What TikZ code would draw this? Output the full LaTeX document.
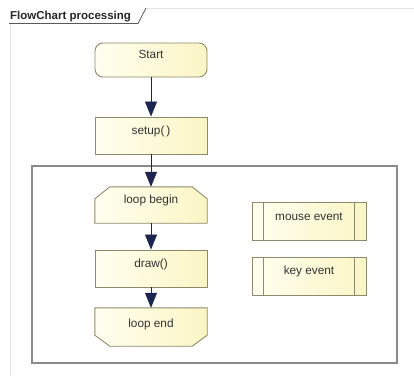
\documentclass[tikz,border=0pt]{standalone}
\usepackage{fontspec}
\setmainfont{Liberation Sans}
\usetikzlibrary{arrows.meta,calc,backgrounds}
\definecolor{boxfillL}{HTML}{FFFFF0}
\definecolor{boxfillR}{HTML}{FBF5C4}
\definecolor{boxline}{HTML}{8C8A6C}
\definecolor{arrowcol}{HTML}{1C2550}
\definecolor{framecol}{HTML}{8A8A8A}
\definecolor{faint}{HTML}{E4E4E4}
\definecolor{txt}{HTML}{333333}
\begin{document}
\begin{tikzpicture}[x=1pt,y=-1pt,
  lbl/.style={minimum width=112pt, inner xsep=0pt, inner ysep=2pt,
    text height=15pt, text depth=18pt,
    font=\fontsize{11.8}{14}\selectfont, text=txt},
  boxed/.style={lbl, draw=boxline, line width=0.9pt,
    left color=boxfillL, right color=boxfillR},
  shapefill/.style={draw=boxline, line width=0.9pt,
    left color=boxfillL, right color=boxfillR},
  flow/.style={draw=arrowcol, line width=0.8pt,
    -{Triangle[width=12pt,length=15pt]}, arrowcol},
  group/.style={draw=framecol, line width=1.4pt,
    minimum width=365pt, minimum height=197pt, inner sep=0pt}
]
\useasboundingbox (0,0) rectangle (414,376);
\begin{scope}[on background layer]
\fill[white] (0,0) rectangle (414,376);
\end{scope}

% outer frame / title tab
\draw[faint, line width=0.8pt] (146,8) -- (414,8);
\draw[faint, line width=0.8pt] (10,23) -- (10,376);
\node (title) [anchor=base west, inner sep=0pt, text=black!85,
  font=\bfseries\fontsize{11.5}{13}\selectfont] at (10,19) {FlowChart processing};
\draw[black!65, line width=0.8pt] (9,23.5) -- (138,23.5) -- (146,8);

% group frame
\node (grp) [group] at (214.5,264.5) {};

% main flow
\node (start) [boxed, rounded corners=8pt, text height=13.5pt, text depth=16.5pt] at (151,60) {Start};
\node (setup) [boxed, text height=15.5pt, text depth=17.5pt] at (151,135.5) {setup(\,)};
\node (lb) [lbl, text height=14pt, text depth=18pt] at (151,205) {loop begin};
\node (draw) [boxed, text height=15pt, text depth=18pt] at (151,268.5) {draw()};
\node (le) [lbl, text height=17pt, text depth=17pt] at (151,327) {loop end};

\begin{scope}[on background layer]
  \path[shapefill] ($(lb.north west)+(0,12)$) -- ($(lb.north west)+(15,0)$)
    -- ($(lb.north east)+(-15,0)$) -- ($(lb.north east)+(0,12)$)
    -- (lb.south east) -- (lb.south west) -- cycle;
  \path[shapefill] (le.north west) -- (le.north east)
    -- ($(le.south east)+(0,-11)$) -- ($(le.south east)+(-15,0)$)
    -- ($(le.south west)+(15,0)$) -- ($(le.south west)+(0,-11)$) -- cycle;
\end{scope}

% event boxes
\node (me) [boxed, minimum width=114pt, text height=16pt, text depth=18pt] at (309,221) {mouse event};
\node (ke) [boxed, minimum width=114pt, text height=15pt, text depth=19pt] at (309,276) {key event};
\foreach \n in {me,ke}{
  \draw[boxline, line width=0.9pt] ($(\n.north west)+(12,0)$) -- ($(\n.south west)+(12,0)$);
  \draw[boxline, line width=0.9pt] ($(\n.north east)+(-12,0)$) -- ($(\n.south east)+(-12,0)$);
}

% connectors
\draw[flow] (start) -- (setup);
\draw[flow] (setup) -- (lb.north);
\draw[flow] (lb) -- (draw);
\draw[flow] (draw) -- (le);
\end{tikzpicture}
\end{document}
